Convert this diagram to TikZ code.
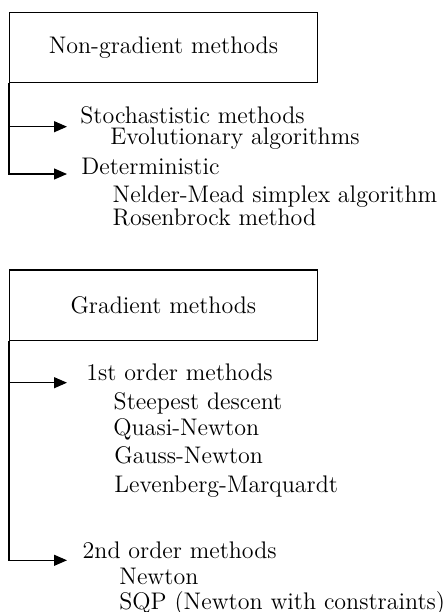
\documentclass[tikz,border=0pt]{standalone}
\usetikzlibrary{arrows.meta}
\begin{document}
\begin{tikzpicture}[x=0.5pt,y=-0.5pt,
  every node/.style={font=\fontsize{12}{14}\selectfont},
  catbox/.style={draw,line width=0.6pt,inner sep=0pt,minimum width=153.9pt},
  item/.style={anchor=base west,inner sep=0pt},
  branch/.style={line width=0.6pt,-{Triangle[length=6.5pt,width=5.5pt]}}]
\useasboundingbox (0,0) rectangle (444,612);

% Non-gradient group
\node[catbox,minimum height=35.2pt] (ng) at (163.4,47.5) {Non-gradient methods};
\node[item] (sto) at (80,123.3) {Stochastistic methods};
\node[item] (evo) at (110,144) {Evolutionary algorithms};
\node[item] (det) at (81,174) {Deterministic};
\node[item] (nm)  at (112.3,202.7) {Nelder-Mead simplex algorithm};
\node[item] (ros) at (112.3,225) {Rosenbrock method};
\coordinate (a1) at (67,126.7);
\coordinate (a2) at (67,174);
\draw[branch] (ng.south west) |- (a1);
\draw[branch] (ng.south west) |- (a2);

% Gradient group
\node[catbox,minimum height=35.15pt] (gr) at (163.4,305.15) {Gradient methods};
\node[item] (fo)  at (86,380) {1st order methods};
\node[item] (sd)  at (113.3,409) {Steepest descent};
\node[item] (qn)  at (113,435) {Quasi-Newton};
\node[item] (gn)  at (114,463) {Gauss-Newton};
\node[item] (lm)  at (114,492) {Levenberg-Marquardt};
\node[item] (so)  at (82.3,558) {2nd order methods};
\node[item] (nw)  at (119,584) {Newton};
\node[item] (sqp) at (119,609) {SQP (Newton with constraints)};
\coordinate (b1) at (67,382.7);
\coordinate (b2) at (67,560.3);
\draw[branch] (gr.south west) |- (b1);
\draw[branch] (gr.south west) |- (b2);
\end{tikzpicture}
\end{document}
